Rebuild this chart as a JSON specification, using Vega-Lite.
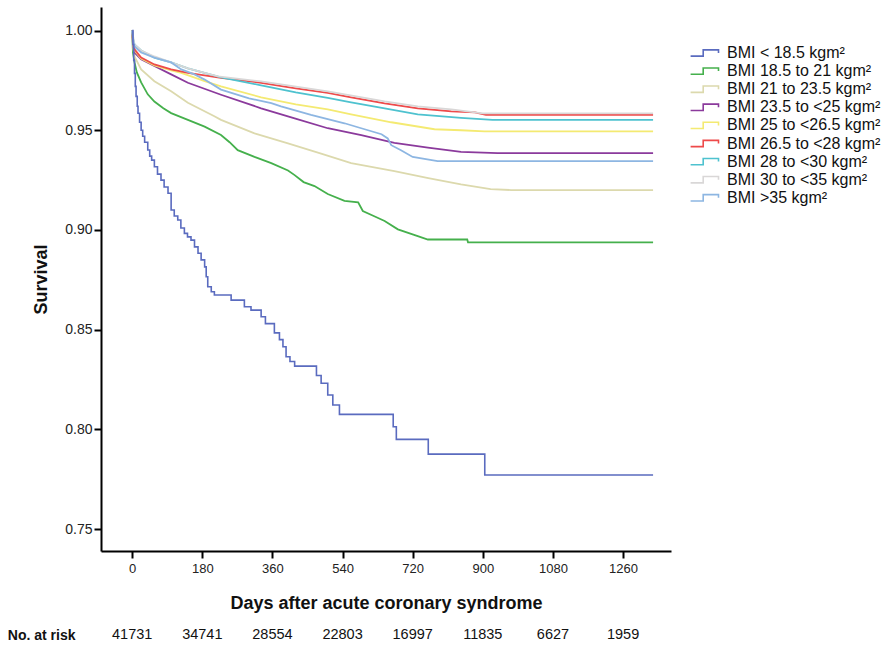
{
  "$schema": "https://vega.github.io/schema/vega-lite/v6.json",
  "background": "white",
  "padding": {"left": 7, "top": 7, "right": 0, "bottom": 0},
  "config": {
    "view": {"stroke": null},
    "font": "Liberation Sans",
    "concat": {"spacing": 12}
  },
  "datasets": {
    "curves": [
      {"bmi": "BMI < 18.5 kgm²", "day": 0, "s": 1.0},
      {"bmi": "BMI < 18.5 kgm²", "day": 2, "s": 0.993},
      {"bmi": "BMI < 18.5 kgm²", "day": 4, "s": 0.985},
      {"bmi": "BMI < 18.5 kgm²", "day": 6, "s": 0.9785},
      {"bmi": "BMI < 18.5 kgm²", "day": 8, "s": 0.972},
      {"bmi": "BMI < 18.5 kgm²", "day": 10, "s": 0.967},
      {"bmi": "BMI < 18.5 kgm²", "day": 13, "s": 0.962},
      {"bmi": "BMI < 18.5 kgm²", "day": 15, "s": 0.9585},
      {"bmi": "BMI < 18.5 kgm²", "day": 19, "s": 0.954},
      {"bmi": "BMI < 18.5 kgm²", "day": 23, "s": 0.95},
      {"bmi": "BMI < 18.5 kgm²", "day": 27, "s": 0.947},
      {"bmi": "BMI < 18.5 kgm²", "day": 32, "s": 0.944},
      {"bmi": "BMI < 18.5 kgm²", "day": 40, "s": 0.9401},
      {"bmi": "BMI < 18.5 kgm²", "day": 45, "s": 0.937},
      {"bmi": "BMI < 18.5 kgm²", "day": 50, "s": 0.935},
      {"bmi": "BMI < 18.5 kgm²", "day": 57, "s": 0.9317},
      {"bmi": "BMI < 18.5 kgm²", "day": 65, "s": 0.928},
      {"bmi": "BMI < 18.5 kgm²", "day": 74, "s": 0.925},
      {"bmi": "BMI < 18.5 kgm²", "day": 82, "s": 0.9215},
      {"bmi": "BMI < 18.5 kgm²", "day": 92, "s": 0.9184},
      {"bmi": "BMI < 18.5 kgm²", "day": 100, "s": 0.91},
      {"bmi": "BMI < 18.5 kgm²", "day": 108, "s": 0.907},
      {"bmi": "BMI < 18.5 kgm²", "day": 117, "s": 0.905},
      {"bmi": "BMI < 18.5 kgm²", "day": 125, "s": 0.901},
      {"bmi": "BMI < 18.5 kgm²", "day": 134, "s": 0.8983},
      {"bmi": "BMI < 18.5 kgm²", "day": 142, "s": 0.8965},
      {"bmi": "BMI < 18.5 kgm²", "day": 151, "s": 0.8949},
      {"bmi": "BMI < 18.5 kgm²", "day": 160, "s": 0.8915},
      {"bmi": "BMI < 18.5 kgm²", "day": 169, "s": 0.8883},
      {"bmi": "BMI < 18.5 kgm²", "day": 177, "s": 0.885},
      {"bmi": "BMI < 18.5 kgm²", "day": 186, "s": 0.8815},
      {"bmi": "BMI < 18.5 kgm²", "day": 190, "s": 0.8765},
      {"bmi": "BMI < 18.5 kgm²", "day": 194, "s": 0.8715},
      {"bmi": "BMI < 18.5 kgm²", "day": 203, "s": 0.869},
      {"bmi": "BMI < 18.5 kgm²", "day": 211, "s": 0.8674},
      {"bmi": "BMI < 18.5 kgm²", "day": 254, "s": 0.8648},
      {"bmi": "BMI < 18.5 kgm²", "day": 288, "s": 0.8615},
      {"bmi": "BMI < 18.5 kgm²", "day": 305, "s": 0.8598},
      {"bmi": "BMI < 18.5 kgm²", "day": 331, "s": 0.8565},
      {"bmi": "BMI < 18.5 kgm²", "day": 342, "s": 0.853},
      {"bmi": "BMI < 18.5 kgm²", "day": 365, "s": 0.8484},
      {"bmi": "BMI < 18.5 kgm²", "day": 378, "s": 0.845},
      {"bmi": "BMI < 18.5 kgm²", "day": 387, "s": 0.8414},
      {"bmi": "BMI < 18.5 kgm²", "day": 395, "s": 0.8364},
      {"bmi": "BMI < 18.5 kgm²", "day": 405, "s": 0.834},
      {"bmi": "BMI < 18.5 kgm²", "day": 417, "s": 0.8317},
      {"bmi": "BMI < 18.5 kgm²", "day": 473, "s": 0.827},
      {"bmi": "BMI < 18.5 kgm²", "day": 485, "s": 0.8231},
      {"bmi": "BMI < 18.5 kgm²", "day": 502, "s": 0.8172},
      {"bmi": "BMI < 18.5 kgm²", "day": 515, "s": 0.8122},
      {"bmi": "BMI < 18.5 kgm²", "day": 532, "s": 0.8075},
      {"bmi": "BMI < 18.5 kgm²", "day": 670, "s": 0.8013},
      {"bmi": "BMI < 18.5 kgm²", "day": 678, "s": 0.795},
      {"bmi": "BMI < 18.5 kgm²", "day": 760, "s": 0.7876},
      {"bmi": "BMI < 18.5 kgm²", "day": 905, "s": 0.7771},
      {"bmi": "BMI < 18.5 kgm²", "day": 1337, "s": 0.7771},

      {"bmi": "BMI 18.5 to 21 kgm²", "day": 0, "s": 1.0},
      {"bmi": "BMI 18.5 to 21 kgm²", "day": 2, "s": 0.989},
      {"bmi": "BMI 18.5 to 21 kgm²", "day": 6, "s": 0.984},
      {"bmi": "BMI 18.5 to 21 kgm²", "day": 12, "s": 0.979},
      {"bmi": "BMI 18.5 to 21 kgm²", "day": 23, "s": 0.974},
      {"bmi": "BMI 18.5 to 21 kgm²", "day": 40, "s": 0.968},
      {"bmi": "BMI 18.5 to 21 kgm²", "day": 57, "s": 0.9644},
      {"bmi": "BMI 18.5 to 21 kgm²", "day": 80, "s": 0.961},
      {"bmi": "BMI 18.5 to 21 kgm²", "day": 100, "s": 0.9586},
      {"bmi": "BMI 18.5 to 21 kgm²", "day": 143, "s": 0.9552},
      {"bmi": "BMI 18.5 to 21 kgm²", "day": 186, "s": 0.9518},
      {"bmi": "BMI 18.5 to 21 kgm²", "day": 228, "s": 0.9476},
      {"bmi": "BMI 18.5 to 21 kgm²", "day": 250, "s": 0.944},
      {"bmi": "BMI 18.5 to 21 kgm²", "day": 271, "s": 0.94},
      {"bmi": "BMI 18.5 to 21 kgm²", "day": 314, "s": 0.9366},
      {"bmi": "BMI 18.5 to 21 kgm²", "day": 357, "s": 0.9335},
      {"bmi": "BMI 18.5 to 21 kgm²", "day": 400, "s": 0.9298},
      {"bmi": "BMI 18.5 to 21 kgm²", "day": 417, "s": 0.9275},
      {"bmi": "BMI 18.5 to 21 kgm²", "day": 440, "s": 0.924},
      {"bmi": "BMI 18.5 to 21 kgm²", "day": 468, "s": 0.922},
      {"bmi": "BMI 18.5 to 21 kgm²", "day": 502, "s": 0.918},
      {"bmi": "BMI 18.5 to 21 kgm²", "day": 545, "s": 0.9146},
      {"bmi": "BMI 18.5 to 21 kgm²", "day": 580, "s": 0.9138},
      {"bmi": "BMI 18.5 to 21 kgm²", "day": 592, "s": 0.9095},
      {"bmi": "BMI 18.5 to 21 kgm²", "day": 620, "s": 0.907},
      {"bmi": "BMI 18.5 to 21 kgm²", "day": 648, "s": 0.9045},
      {"bmi": "BMI 18.5 to 21 kgm²", "day": 682, "s": 0.9003},
      {"bmi": "BMI 18.5 to 21 kgm²", "day": 733, "s": 0.8969},
      {"bmi": "BMI 18.5 to 21 kgm²", "day": 759, "s": 0.8952},
      {"bmi": "BMI 18.5 to 21 kgm²", "day": 860, "s": 0.8952},
      {"bmi": "BMI 18.5 to 21 kgm²", "day": 862, "s": 0.8938},
      {"bmi": "BMI 18.5 to 21 kgm²", "day": 1337, "s": 0.8938},

      {"bmi": "BMI 21 to 23.5 kgm²", "day": 0, "s": 1.0},
      {"bmi": "BMI 21 to 23.5 kgm²", "day": 2, "s": 0.992},
      {"bmi": "BMI 21 to 23.5 kgm²", "day": 6, "s": 0.987},
      {"bmi": "BMI 21 to 23.5 kgm²", "day": 23, "s": 0.9805},
      {"bmi": "BMI 21 to 23.5 kgm²", "day": 57, "s": 0.9746},
      {"bmi": "BMI 21 to 23.5 kgm²", "day": 100, "s": 0.9695},
      {"bmi": "BMI 21 to 23.5 kgm²", "day": 143, "s": 0.9638},
      {"bmi": "BMI 21 to 23.5 kgm²", "day": 211, "s": 0.957},
      {"bmi": "BMI 21 to 23.5 kgm²", "day": 228, "s": 0.9552},
      {"bmi": "BMI 21 to 23.5 kgm²", "day": 314, "s": 0.9484},
      {"bmi": "BMI 21 to 23.5 kgm²", "day": 400, "s": 0.9434},
      {"bmi": "BMI 21 to 23.5 kgm²", "day": 485, "s": 0.9383},
      {"bmi": "BMI 21 to 23.5 kgm²", "day": 562, "s": 0.9335},
      {"bmi": "BMI 21 to 23.5 kgm²", "day": 673, "s": 0.9295},
      {"bmi": "BMI 21 to 23.5 kgm²", "day": 760, "s": 0.926},
      {"bmi": "BMI 21 to 23.5 kgm²", "day": 844, "s": 0.9228},
      {"bmi": "BMI 21 to 23.5 kgm²", "day": 920, "s": 0.9205},
      {"bmi": "BMI 21 to 23.5 kgm²", "day": 973, "s": 0.92},
      {"bmi": "BMI 21 to 23.5 kgm²", "day": 1337, "s": 0.92},

      {"bmi": "BMI 23.5 to <25 kgm²", "day": 0, "s": 1.0},
      {"bmi": "BMI 23.5 to <25 kgm²", "day": 2, "s": 0.993},
      {"bmi": "BMI 23.5 to <25 kgm²", "day": 6, "s": 0.989},
      {"bmi": "BMI 23.5 to <25 kgm²", "day": 23, "s": 0.9856},
      {"bmi": "BMI 23.5 to <25 kgm²", "day": 57, "s": 0.9822},
      {"bmi": "BMI 23.5 to <25 kgm²", "day": 100, "s": 0.978},
      {"bmi": "BMI 23.5 to <25 kgm²", "day": 143, "s": 0.9738},
      {"bmi": "BMI 23.5 to <25 kgm²", "day": 228, "s": 0.9678},
      {"bmi": "BMI 23.5 to <25 kgm²", "day": 331, "s": 0.961},
      {"bmi": "BMI 23.5 to <25 kgm²", "day": 417, "s": 0.956},
      {"bmi": "BMI 23.5 to <25 kgm²", "day": 502, "s": 0.951},
      {"bmi": "BMI 23.5 to <25 kgm²", "day": 588, "s": 0.9476},
      {"bmi": "BMI 23.5 to <25 kgm²", "day": 673, "s": 0.9437},
      {"bmi": "BMI 23.5 to <25 kgm²", "day": 759, "s": 0.9413},
      {"bmi": "BMI 23.5 to <25 kgm²", "day": 844, "s": 0.9391},
      {"bmi": "BMI 23.5 to <25 kgm²", "day": 938, "s": 0.9385},
      {"bmi": "BMI 23.5 to <25 kgm²", "day": 1337, "s": 0.9385},

      {"bmi": "BMI 25 to <26.5 kgm²", "day": 0, "s": 1.0},
      {"bmi": "BMI 25 to <26.5 kgm²", "day": 2, "s": 0.994},
      {"bmi": "BMI 25 to <26.5 kgm²", "day": 6, "s": 0.99},
      {"bmi": "BMI 25 to <26.5 kgm²", "day": 23, "s": 0.986},
      {"bmi": "BMI 25 to <26.5 kgm²", "day": 57, "s": 0.9825},
      {"bmi": "BMI 25 to <26.5 kgm²", "day": 100, "s": 0.98},
      {"bmi": "BMI 25 to <26.5 kgm²", "day": 126, "s": 0.9788},
      {"bmi": "BMI 25 to <26.5 kgm²", "day": 186, "s": 0.9746},
      {"bmi": "BMI 25 to <26.5 kgm²", "day": 228, "s": 0.972},
      {"bmi": "BMI 25 to <26.5 kgm²", "day": 331, "s": 0.9665},
      {"bmi": "BMI 25 to <26.5 kgm²", "day": 420, "s": 0.963},
      {"bmi": "BMI 25 to <26.5 kgm²", "day": 502, "s": 0.9605},
      {"bmi": "BMI 25 to <26.5 kgm²", "day": 562, "s": 0.958},
      {"bmi": "BMI 25 to <26.5 kgm²", "day": 665, "s": 0.954},
      {"bmi": "BMI 25 to <26.5 kgm²", "day": 776, "s": 0.9505},
      {"bmi": "BMI 25 to <26.5 kgm²", "day": 844, "s": 0.95},
      {"bmi": "BMI 25 to <26.5 kgm²", "day": 904, "s": 0.9494},
      {"bmi": "BMI 25 to <26.5 kgm²", "day": 1337, "s": 0.9494},

      {"bmi": "BMI 26.5 to <28 kgm²", "day": 0, "s": 1.0},
      {"bmi": "BMI 26.5 to <28 kgm²", "day": 2, "s": 0.995},
      {"bmi": "BMI 26.5 to <28 kgm²", "day": 6, "s": 0.9906},
      {"bmi": "BMI 26.5 to <28 kgm²", "day": 23, "s": 0.9864},
      {"bmi": "BMI 26.5 to <28 kgm²", "day": 57, "s": 0.983},
      {"bmi": "BMI 26.5 to <28 kgm²", "day": 100, "s": 0.9805},
      {"bmi": "BMI 26.5 to <28 kgm²", "day": 143, "s": 0.9788},
      {"bmi": "BMI 26.5 to <28 kgm²", "day": 228, "s": 0.9763},
      {"bmi": "BMI 26.5 to <28 kgm²", "day": 331, "s": 0.9738},
      {"bmi": "BMI 26.5 to <28 kgm²", "day": 420, "s": 0.971},
      {"bmi": "BMI 26.5 to <28 kgm²", "day": 502, "s": 0.9687},
      {"bmi": "BMI 26.5 to <28 kgm²", "day": 562, "s": 0.9665},
      {"bmi": "BMI 26.5 to <28 kgm²", "day": 648, "s": 0.9635},
      {"bmi": "BMI 26.5 to <28 kgm²", "day": 733, "s": 0.961},
      {"bmi": "BMI 26.5 to <28 kgm²", "day": 819, "s": 0.9595},
      {"bmi": "BMI 26.5 to <28 kgm²", "day": 880, "s": 0.959},
      {"bmi": "BMI 26.5 to <28 kgm²", "day": 908, "s": 0.9577},
      {"bmi": "BMI 26.5 to <28 kgm²", "day": 1337, "s": 0.9577},

      {"bmi": "BMI 28 to <30 kgm²", "day": 0, "s": 1.0},
      {"bmi": "BMI 28 to <30 kgm²", "day": 2, "s": 0.996},
      {"bmi": "BMI 28 to <30 kgm²", "day": 6, "s": 0.993},
      {"bmi": "BMI 28 to <30 kgm²", "day": 23, "s": 0.99},
      {"bmi": "BMI 28 to <30 kgm²", "day": 57, "s": 0.9864},
      {"bmi": "BMI 28 to <30 kgm²", "day": 100, "s": 0.984},
      {"bmi": "BMI 28 to <30 kgm²", "day": 143, "s": 0.981},
      {"bmi": "BMI 28 to <30 kgm²", "day": 228, "s": 0.9765},
      {"bmi": "BMI 28 to <30 kgm²", "day": 331, "s": 0.9725},
      {"bmi": "BMI 28 to <30 kgm²", "day": 420, "s": 0.969},
      {"bmi": "BMI 28 to <30 kgm²", "day": 502, "s": 0.9662},
      {"bmi": "BMI 28 to <30 kgm²", "day": 562, "s": 0.964},
      {"bmi": "BMI 28 to <30 kgm²", "day": 648, "s": 0.961},
      {"bmi": "BMI 28 to <30 kgm²", "day": 733, "s": 0.958},
      {"bmi": "BMI 28 to <30 kgm²", "day": 844, "s": 0.9562},
      {"bmi": "BMI 28 to <30 kgm²", "day": 925, "s": 0.9552},
      {"bmi": "BMI 28 to <30 kgm²", "day": 1337, "s": 0.9552},

      {"bmi": "BMI 30 to <35 kgm²", "day": 0, "s": 1.0},
      {"bmi": "BMI 30 to <35 kgm²", "day": 6, "s": 0.993},
      {"bmi": "BMI 30 to <35 kgm²", "day": 23, "s": 0.99},
      {"bmi": "BMI 30 to <35 kgm²", "day": 57, "s": 0.987},
      {"bmi": "BMI 30 to <35 kgm²", "day": 100, "s": 0.984},
      {"bmi": "BMI 30 to <35 kgm²", "day": 143, "s": 0.981},
      {"bmi": "BMI 30 to <35 kgm²", "day": 220, "s": 0.977},
      {"bmi": "BMI 30 to <35 kgm²", "day": 331, "s": 0.9745},
      {"bmi": "BMI 30 to <35 kgm²", "day": 502, "s": 0.9695},
      {"bmi": "BMI 30 to <35 kgm²", "day": 648, "s": 0.9645},
      {"bmi": "BMI 30 to <35 kgm²", "day": 733, "s": 0.962},
      {"bmi": "BMI 30 to <35 kgm²", "day": 819, "s": 0.9605},
      {"bmi": "BMI 30 to <35 kgm²", "day": 900, "s": 0.9585},
      {"bmi": "BMI 30 to <35 kgm²", "day": 1337, "s": 0.9585},

      {"bmi": "BMI >35 kgm²", "day": 0, "s": 1.0},
      {"bmi": "BMI >35 kgm²", "day": 3, "s": 0.995},
      {"bmi": "BMI >35 kgm²", "day": 6, "s": 0.992},
      {"bmi": "BMI >35 kgm²", "day": 23, "s": 0.989},
      {"bmi": "BMI >35 kgm²", "day": 57, "s": 0.9864},
      {"bmi": "BMI >35 kgm²", "day": 100, "s": 0.984},
      {"bmi": "BMI >35 kgm²", "day": 126, "s": 0.9805},
      {"bmi": "BMI >35 kgm²", "day": 160, "s": 0.978},
      {"bmi": "BMI >35 kgm²", "day": 186, "s": 0.9754},
      {"bmi": "BMI >35 kgm²", "day": 228, "s": 0.9704},
      {"bmi": "BMI >35 kgm²", "day": 300, "s": 0.966},
      {"bmi": "BMI >35 kgm²", "day": 357, "s": 0.9636},
      {"bmi": "BMI >35 kgm²", "day": 382, "s": 0.962},
      {"bmi": "BMI >35 kgm²", "day": 459, "s": 0.9577},
      {"bmi": "BMI >35 kgm²", "day": 545, "s": 0.9535},
      {"bmi": "BMI >35 kgm²", "day": 588, "s": 0.951},
      {"bmi": "BMI >35 kgm²", "day": 640, "s": 0.948},
      {"bmi": "BMI >35 kgm²", "day": 656, "s": 0.9459},
      {"bmi": "BMI >35 kgm²", "day": 665, "s": 0.9425},
      {"bmi": "BMI >35 kgm²", "day": 690, "s": 0.94},
      {"bmi": "BMI >35 kgm²", "day": 720, "s": 0.9366},
      {"bmi": "BMI >35 kgm²", "day": 784, "s": 0.9345},
      {"bmi": "BMI >35 kgm²", "day": 1337, "s": 0.9345}
    ],
    "risk": [
      {"row": "No. at risk", "day": 0, "n": 41731},
      {"row": "No. at risk", "day": 180, "n": 34741},
      {"row": "No. at risk", "day": 360, "n": 28554},
      {"row": "No. at risk", "day": 540, "n": 22803},
      {"row": "No. at risk", "day": 720, "n": 16997},
      {"row": "No. at risk", "day": 900, "n": 11835},
      {"row": "No. at risk", "day": 1080, "n": 6627},
      {"row": "No. at risk", "day": 1260, "n": 1959}
    ]
  },
  "vconcat": [
    {
      "width": 570,
      "height": 544,
      "data": {"name": "curves"},
      "encoding": {
        "x": {
          "field": "day", "type": "quantitative",
          "scale": {"domain": [-80, 1383], "nice": false, "zero": false},
          "axis": {
            "title": "Days after acute coronary syndrome",
            "values": [0, 180, 360, 540, 720, 900, 1080, 1260],
            "format": "d",
            "grid": false,
            "domainColor": "#000", "domainWidth": 2,
            "tickColor": "#000", "tickWidth": 2, "tickSize": 7,
            "labelFontSize": 13, "labelColor": "#222", "labelPadding": 4,
            "titleFontSize": 18, "titleFontWeight": "bold", "titleColor": "#111",
            "titlePadding": 19
          }
        },
        "y": {
          "field": "s", "type": "quantitative",
          "scale": {"domain": [0.739, 1.0118], "nice": false, "zero": false},
          "axis": {
            "title": "Survival",
            "values": [0.75, 0.8, 0.85, 0.9, 0.95, 1.0],
            "format": ".2f",
            "grid": false,
            "domainColor": "#000", "domainWidth": 2,
            "tickColor": "#000", "tickWidth": 2, "tickSize": 7,
            "labelFontSize": 14, "labelColor": "#222", "labelPadding": 2,
            "titleFontSize": 18, "titleFontWeight": "bold", "titleColor": "#111",
            "titlePadding": 14
          }
        },
        "color": {
          "field": "bmi", "type": "nominal",
          "scale": {
            "domain": ["BMI < 18.5 kgm²", "BMI 18.5 to 21 kgm²", "BMI 21 to 23.5 kgm²", "BMI 23.5 to <25 kgm²", "BMI 25 to <26.5 kgm²", "BMI 26.5 to <28 kgm²", "BMI 28 to <30 kgm²", "BMI 30 to <35 kgm²", "BMI >35 kgm²"],
            "range": ["#5a6bbf", "#45b04c", "#dcd9ad", "#8b3a9c", "#f4ea72", "#ee4a4a", "#4ec2cf", "#d9d7d7", "#8db6e2"]
          },
          "legend": {
            "title": null,
            "orient": "none",
            "legendX": 594,
            "legendY": 36,
            "labelFontSize": 16,
            "labelColor": "#111",
            "symbolType": "M-1.6,0.35H-0.2V-0.35H1.5V0",
            "symbolSize": 324,
            "symbolStrokeWidth": 1.6,
            "symbolFillColor": "transparent",
            "labelOffset": 12,
            "rowPadding": 0.1
          }
        }
      },
      "layer": [
        {
          "transform": [{"filter": "datum.bmi != 'BMI < 18.5 kgm²'"}],
          "mark": {"type": "line", "strokeWidth": 1.8}
        },
        {
          "transform": [{"filter": "datum.bmi == 'BMI < 18.5 kgm²'"}],
          "mark": {"type": "line", "interpolate": "step-after", "strokeWidth": 1.6}
        }
      ]
    },
    {
      "width": 570,
      "height": 22,
      "data": {"name": "risk"},
      "mark": {"type": "text", "fontSize": 14.5, "color": "#111"},
      "encoding": {
        "x": {"field": "day", "type": "quantitative", "scale": {"domain": [-80, 1383], "nice": false, "zero": false}, "axis": null},
        "y": {
          "field": "row", "type": "nominal",
          "axis": {"title": null, "domain": false, "ticks": false, "labelFontSize": 14, "labelFontWeight": "bold", "labelColor": "#111", "labelPadding": 26}
        },
        "text": {"field": "n", "type": "nominal"}
      }
    }
  ]
}
